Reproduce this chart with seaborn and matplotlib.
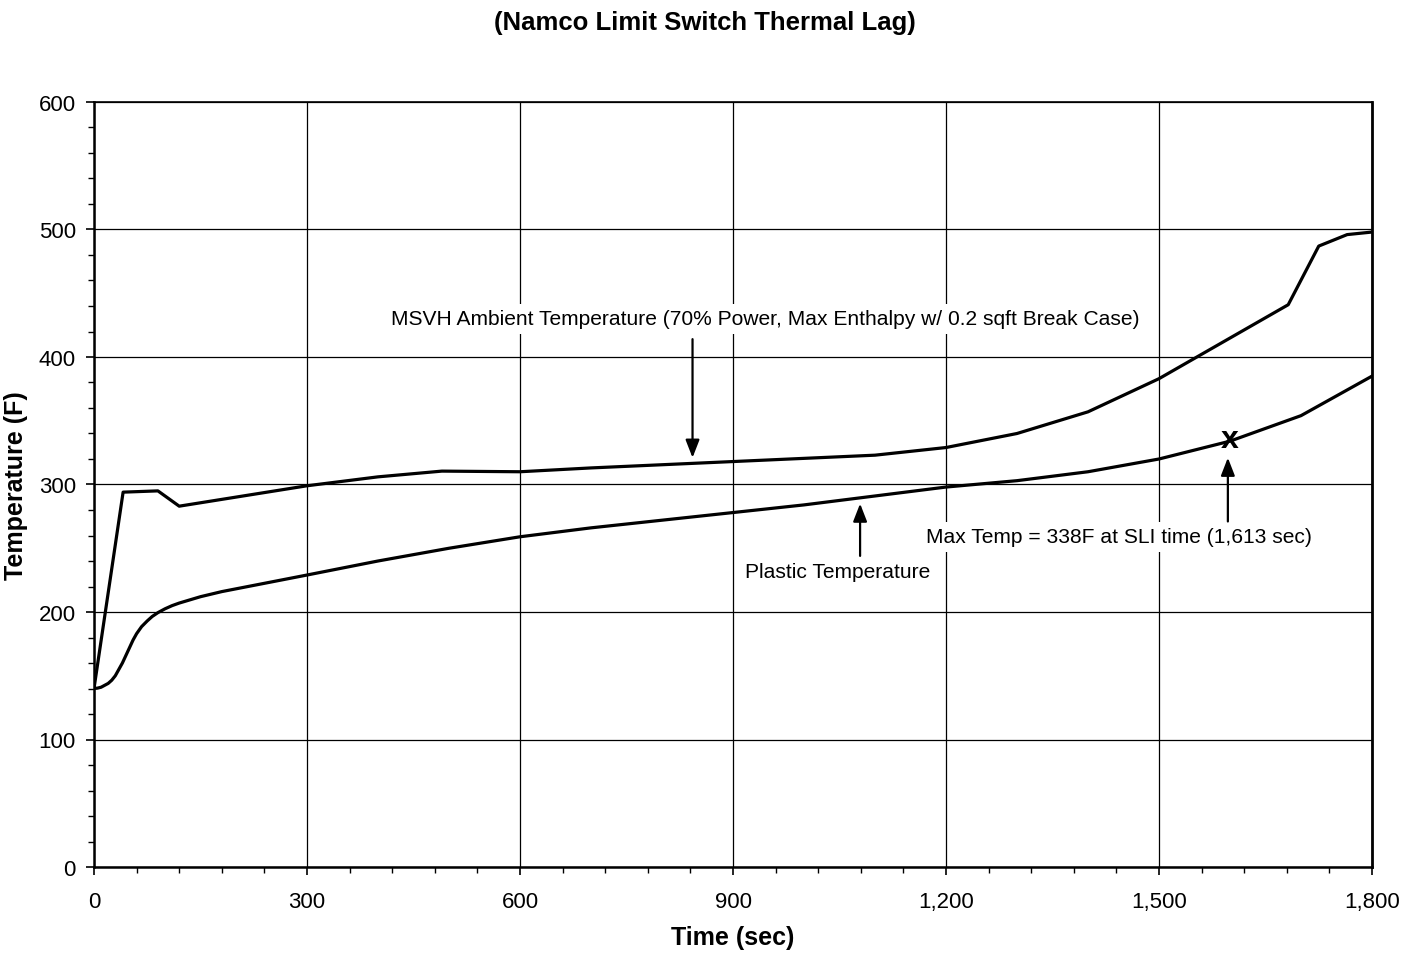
import matplotlib
matplotlib.use("Agg")
import matplotlib.pyplot as plt
import seaborn as sns
import pandas as pd
from matplotlib.ticker import MultipleLocator, FuncFormatter

# ---- data ----
ambient_time = [0, 41, 90, 120, 300, 400, 490, 600, 700, 900, 1100, 1200, 1300, 1400, 1500, 1682, 1725, 1765, 1800]
ambient_temp = [140, 294, 295, 283, 299, 306, 310.5, 310, 313, 318, 323, 329, 340, 357, 383, 441, 487, 496, 498]

plastic_time = [0, 5, 10, 15, 20, 25, 30, 35, 40, 45, 50, 55, 60, 67, 75, 82, 90, 100, 110, 120, 135, 150, 180,
                240, 300, 400, 500, 600, 700, 800, 900, 1000, 1100, 1200, 1300, 1400, 1500, 1600, 1700, 1800]
plastic_temp = [140, 140.3, 141, 142.5, 144, 146.5, 150, 155, 160, 166, 172, 178, 183, 188.5, 193, 196.5, 199.5,
                202.5, 205, 207, 209.5, 212, 216, 222.5, 229, 240, 250, 259, 266, 272, 278, 284, 291, 298, 303,
                310, 320, 334, 354, 385]

max_time = 1600
max_temp = 336

x_ticks = [0, 300, 600, 900, 1200, 1500, 1800]
y_ticks = [0, 100, 200, 300, 400, 500, 600]

title = "(Namco Limit Switch Thermal Lag)"
x_label = "Time (sec)"
y_label = "Temperature (F)"
ambient_note = "MSVH Ambient Temperature (70% Power, Max Enthalpy w/ 0.2 sqft Break Case)"
plastic_note = "Plastic Temperature"
max_note = "Max Temp = 338F at SLI time (1,613 sec)"

# ---- plot ----
sns.set_theme(style="white")
plt.rcParams['font.family'] = ['Liberation Sans', 'DejaVu Sans']
plt.rcParams['text.color'] = 'black'
plt.rcParams['axes.labelcolor'] = 'black'

fig = plt.figure(figsize=(14.10, 9.62), dpi=100)
ax = fig.add_axes([94 / 1410, 1 - 868 / 962, (1372 - 94) / 1410, (868 - 103) / 962])

amb = pd.DataFrame({"t": ambient_time, "T": ambient_temp})
pla = pd.DataFrame({"t": plastic_time, "T": plastic_temp})
sns.lineplot(data=amb, x="t", y="T", ax=ax, color="black", linewidth=2.3, zorder=3)
sns.lineplot(data=pla, x="t", y="T", ax=ax, color="black", linewidth=2.3, zorder=3)

ax.text(max_time, max_temp, "x", ha="center", va="center", fontsize=23, fontweight="bold",
        color="black", zorder=4)

ax.set_xlim(0, 1800)
ax.set_ylim(0, 600)
ax.set_xticks(x_ticks)
ax.set_yticks(y_ticks)
ax.xaxis.set_minor_locator(MultipleLocator(60))
ax.yaxis.set_minor_locator(MultipleLocator(20))
ax.xaxis.set_major_formatter(FuncFormatter(lambda v, p: f"{int(v):,}"))
ax.yaxis.set_major_formatter(FuncFormatter(lambda v, p: f"{int(v)}"))

ax.grid(True, which="major", color="black", linewidth=0.9)
ax.set_axisbelow(True)
for s in ax.spines.values():
    s.set_color("black")
    s.set_linewidth(1.2)
ax.spines["left"].set_linewidth(1.8)
ax.spines["bottom"].set_linewidth(1.8)
ax.spines["right"].set_linewidth(2.0)

ax.tick_params(axis="both", which="major", direction="out", length=6, width=1.2, color="black",
               labelsize=16, labelcolor="black", bottom=True, left=True)
ax.tick_params(axis="x", which="major", pad=11)
ax.tick_params(axis="y", which="major", pad=7)
ax.tick_params(axis="both", which="minor", direction="out", length=4, width=1.0, color="black",
               bottom=True, left=True)

ax.set_xlabel(x_label, fontsize=18, fontweight="bold", labelpad=10, color="black")
ax.set_ylabel(y_label, fontsize=18, fontweight="bold", labelpad=8, color="black")
fig.suptitle(title, x=0.5, y=1 - 23 / 962, fontsize=18.5, fontweight="bold", va="center", color="black")

arrow = dict(arrowstyle="-|>,head_length=0.9,head_width=0.35", color="black", lw=1.6,
             shrinkA=0, shrinkB=0)
fs = 15.1
box = dict(facecolor="white", edgecolor="none", pad=4)
ax.annotate("", xy=(843, 321), xytext=(843, 414), arrowprops=arrow, zorder=3)
ax.text(945, 430, ambient_note, ha="center", va="center", fontsize=fs, color="black", bbox=box, zorder=2)

ax.annotate("", xy=(1079, 285), xytext=(1079, 244), arrowprops=arrow, zorder=3)
ax.text(917, 232, plastic_note, ha="left", va="center", fontsize=fs, color="black", bbox=box, zorder=2)

ax.annotate("", xy=(1597, 321), xytext=(1597, 271), arrowprops=arrow, zorder=3)
ax.text(1444, 259, max_note, ha="center", va="center", fontsize=fs, color="black", bbox=box, zorder=2)

fig.savefig("out.png", dpi=100)
